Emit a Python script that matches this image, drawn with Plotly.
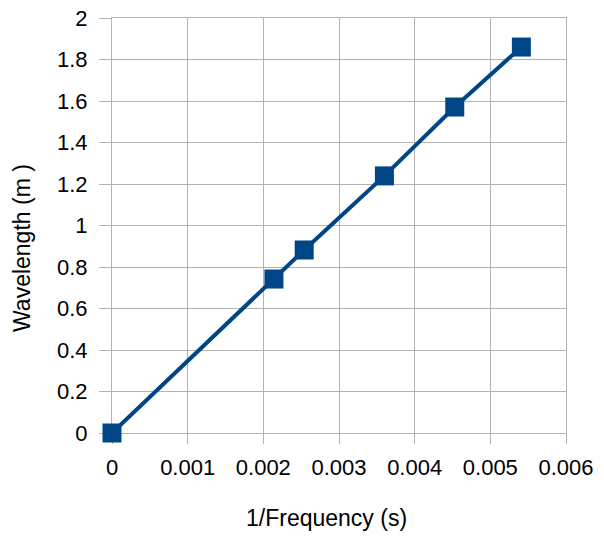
import plotly.graph_objects as go

inv_frequency = [0, 0.00214, 0.00254, 0.00360, 0.00453, 0.00541]
wavelength = [0, 0.742, 0.882, 1.239, 1.571, 1.860]

x_tickvals = [0, 0.001, 0.002, 0.003, 0.004, 0.005, 0.006]
x_ticktext = ["0", "0.001", "0.002", "0.003", "0.004", "0.005", "0.006"]
y_tickvals = [0, 0.2, 0.4, 0.6, 0.8, 1, 1.2, 1.4, 1.6, 1.8, 2]
y_ticktext = ["0", "0.2", "0.4", "0.6", "0.8", "1", "1.2", "1.4", "1.6", "1.8", "2"]
x_title = "1/Frequency (s)"
y_title = "Wavelength (m )"

color = "#004586"
grid = "#b3b3b3"
font_family = "Liberation Sans, Arial, sans-serif"

fig = go.Figure()
fig.add_trace(go.Scatter(
    x=inv_frequency, y=wavelength, mode="lines+markers",
    line=dict(color=color, width=4),
    marker=dict(symbol="square", size=19, color=color),
    cliponaxis=False, showlegend=False,
))

axis_common = dict(
    showgrid=True, gridcolor=grid, gridwidth=1,
    showline=True, linecolor=grid, linewidth=1, mirror=True,
    tickcolor=grid, tickwidth=1, ticks="outside",
    zeroline=False, tickfont=dict(size=22), layer="below traces",
    ticklabeloverflow="allow", automargin=False,
)

fig.update_layout(
    width=604, height=537,
    margin=dict(l=112, r=38, t=18, b=104),
    paper_bgcolor="white", plot_bgcolor="white",
    font=dict(family=font_family, color="#000000", size=22),
    xaxis=dict(range=[0, 0.006], tickvals=x_tickvals, ticktext=x_ticktext,
               ticklen=10, ticklabelstandoff=5, **axis_common),
    yaxis=dict(range=[0, 2], tickvals=y_tickvals, ticktext=y_ticktext,
               ticklen=12, ticklabelstandoff=7, **axis_common),
    annotations=[
        dict(text=x_title, xref="paper", yref="paper", x=0.4725, y=-0.2048,
             showarrow=False, xanchor="center", yanchor="middle",
             font=dict(size=23)),
        dict(text=y_title, xref="paper", yref="paper", x=-0.1982, y=0.4458,
             showarrow=False, xanchor="center", yanchor="middle",
             textangle=-90, font=dict(size=23)),
    ],
)

fig.write_html("out.html", config={"displayModeBar": False},
               post_script="document.body.style.margin='0';")
